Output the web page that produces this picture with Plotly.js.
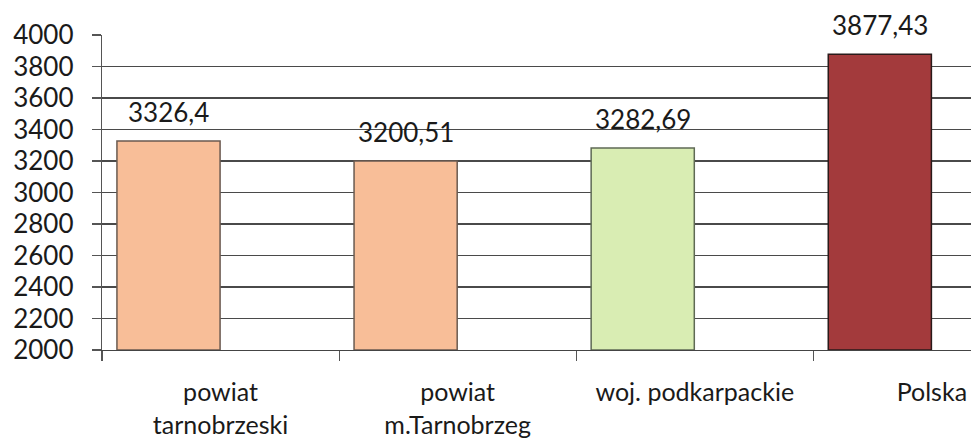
<!DOCTYPE html>
<html>
<head>
<meta charset="utf-8">
<script src="https://cdn.plot.ly/plotly-3.0.1.min.js"></script>
<style>html,body{margin:0;padding:0;background:#fff;}#chart{width:971px;height:446px;}</style>
</head>
<body>
<div id="chart"></div>
<script>
const categories = ["powiat<br>tarnobrzeski", "powiat<br>m.Tarnobrzeg", "woj. podkarpackie", "Polska"];
const values = [3326.4, 3200.51, 3282.69, 3877.43];
const barColors = ["#F8BE98", "#F8BE98", "#D9EDB3", "#A33A3C"];
const barLines = ["#6a5a50", "#6a5a50", "#5f6a55", "#2a1a1a"];
const yTicks = [2000, 2200, 2400, 2600, 2800, 3000, 3200, 3400, 3600, 3800, 4000];
const yMin = 2000, yMax = 4000;

const barOffset = -0.437, barWidth = 0.435;
const fontFam = "Lato, 'Open Sans', sans-serif";

const trace = {
  type: "bar",
  x: categories,
  y: values.map(v => v - yMin),
  base: yMin,
  offset: barOffset,
  width: barWidth,
  marker: {color: barColors, line: {color: barLines, width: 1.5}},
  hoverinfo: "skip"
};

const annotations = values.map((v, i) => ({
  x: i + barOffset + barWidth / 2,
  y: v,
  xref: "x", yref: "y",
  text: String(v).replace(".", ","),
  showarrow: false,
  yanchor: "bottom",
  yshift: 11,
  font: {family: fontFam, size: 26, color: "#1a1a1a"}
}));

const layout = {
  width: 971, height: 446,
  margin: {l: 102, r: 0, t: 35, b: 96},
  paper_bgcolor: "#fff", plot_bgcolor: "#fff",
  showlegend: false,
  xaxis: {
    type: "category",
    range: [-0.5, 3.165],
    tickson: "boundaries",
    ticks: "outside", ticklen: 10, tickcolor: "#555", tickwidth: 1.2,
    showgrid: false,
    showline: true, linecolor: "#444", linewidth: 1.4,
    ticklabelstandoff: 20,
    tickfont: {family: fontFam, size: 25, color: "#1a1a1a"},
    fixedrange: true
  },
  yaxis: {
    range: [yMin, yMax],
    tickvals: yTicks,
    ticktext: yTicks.map(String),
    ticks: "outside", ticklen: 9, tickcolor: "#555", tickwidth: 1.2,
    showgrid: true, gridcolor: "#4a4a4a", gridwidth: 1.4,
    showline: true, linecolor: "#555", linewidth: 1.3,
    ticklabelstandoff: 13,
    tickfont: {family: fontFam, size: 26, color: "#1a1a1a"},
    zeroline: false,
    fixedrange: true
  },
  annotations: annotations
};

Plotly.newPlot("chart", [trace], layout, {displayModeBar: false, staticPlot: true});
</script>
</body>
</html>
